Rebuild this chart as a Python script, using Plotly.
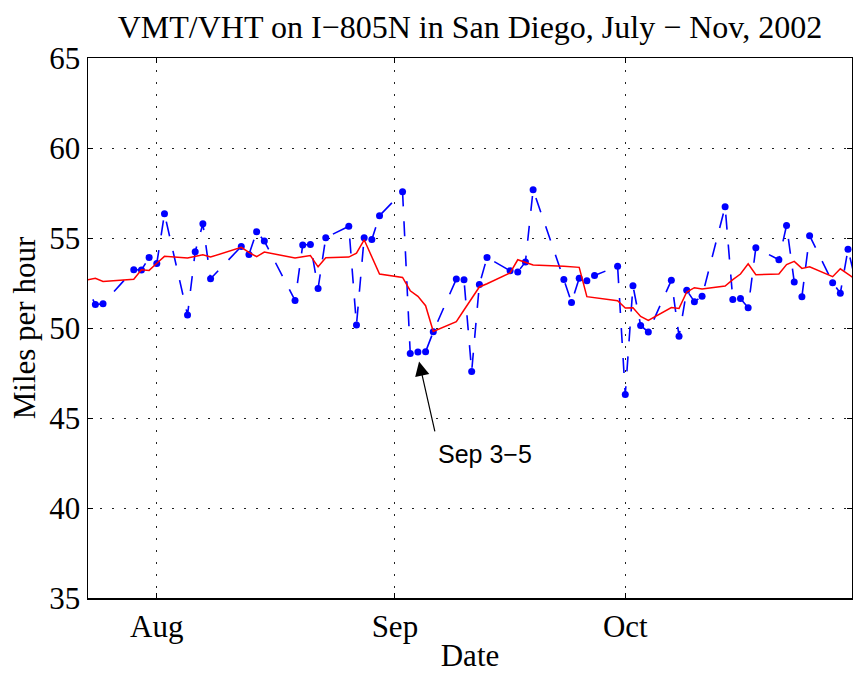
import plotly.graph_objects as go

# ---- data ----
dates = [
    "2002-07-22", "2002-07-24", "2002-07-25", "2002-07-29", "2002-07-30", "2002-07-31",
    "2002-08-01", "2002-08-02", "2002-08-05", "2002-08-06", "2002-08-07", "2002-08-08",
    "2002-08-12", "2002-08-13", "2002-08-14", "2002-08-15", "2002-08-19", "2002-08-20",
    "2002-08-21", "2002-08-22", "2002-08-23", "2002-08-26", "2002-08-27", "2002-08-28",
    "2002-08-29", "2002-08-30", "2002-09-02", "2002-09-03", "2002-09-04", "2002-09-05",
    "2002-09-06", "2002-09-09", "2002-09-10", "2002-09-11", "2002-09-12", "2002-09-13",
    "2002-09-16", "2002-09-17", "2002-09-18", "2002-09-19", "2002-09-23", "2002-09-24",
    "2002-09-25", "2002-09-26", "2002-09-27", "2002-09-30", "2002-10-01", "2002-10-02",
    "2002-10-03", "2002-10-04", "2002-10-07", "2002-10-08", "2002-10-09", "2002-10-10",
    "2002-10-11", "2002-10-14", "2002-10-15", "2002-10-16", "2002-10-17", "2002-10-18",
    "2002-10-21", "2002-10-22", "2002-10-23", "2002-10-24", "2002-10-25", "2002-10-28",
    "2002-10-29", "2002-10-30", "2002-10-31",
]

daily_mph = [
    53.10, 51.30, 51.35, 53.24, 53.22, 53.92,
    53.59, 56.35, 50.72, 54.24, 55.79, 52.74,
    54.53, 54.09, 55.35, 54.83, 51.53, 54.61,
    54.64, 52.20, 55.02, 55.65, 50.17, 55.02,
    54.92, 56.24, 57.57, 48.59, 48.67, 48.68,
    49.79, 52.72, 52.68, 47.59, 52.41, 53.92,
    53.18, 53.11, 53.67, 57.68, 52.70, 51.41,
    52.76, 52.63, 52.92, 53.43, 46.30, 52.35,
    50.14, 49.78, 52.65, 49.54, 52.10, 51.46,
    51.76, 56.74, 51.59, 51.64, 51.13, 54.46,
    53.79, 55.70, 52.56, 51.74, 55.13, 52.52,
    51.93, 54.37, 52.60,
]

smoothed_mph = [
    52.60, 52.76, 52.59, 52.71, 53.24, 53.20,
    53.60, 53.98, 53.89, 53.98, 54.07, 53.94,
    54.48, 54.20, 53.96, 54.22, 53.89, 53.96,
    54.03, 53.40, 53.90, 53.94, 54.16, 54.90,
    53.93, 53.00, 52.81, 52.07, 51.76, 51.24,
    49.81, 50.35, 51.00, 51.65, 52.28, 52.46,
    53.06, 53.79, 53.64, 53.50, 53.43, 53.40,
    53.37, 51.74, 51.68, 51.52, 51.11, 51.12,
    50.64, 50.42, 51.14, 51.09, 52.00, 52.24,
    52.17, 52.33, 52.69, 53.00, 53.57, 52.96,
    53.00, 53.52, 53.70, 53.31, 53.40, 52.85,
    53.29, 52.98, 52.70,
]

tick_dates = ["2002-08-01", "2002-09-01", "2002-10-01"]
tick_labels = ["Aug", "Sep", "Oct"]
y_ticks = [35, 40, 45, 50, 55, 60, 65]

x_range = ["2002-07-23 01:00", "2002-10-30 12:30"]
y_range = [35, 65]

SERIF = "Liberation Serif, Times New Roman, serif"
SANS = "Liberation Sans, Arial, Helvetica, sans-serif"

fig = go.Figure()

fig.add_trace(go.Scatter(
    x=dates, y=daily_mph, mode="lines+markers",
    line=dict(color="#0000ff", width=1.6, dash="15px,15px"),
    marker=dict(color="#0000ff", size=7, line=dict(width=0)),
    showlegend=False, hoverinfo="skip",
))
fig.add_trace(go.Scatter(
    x=dates, y=smoothed_mph, mode="lines",
    line=dict(color="#ff0000", width=1.5),
    showlegend=False, hoverinfo="skip",
))

# arrow pointing at Sep 3-5
fig.add_annotation(
    x="2002-09-04 03:30", y=48.14, ax="2002-09-06 06:00", ay=44.17,
    xref="x", yref="y", axref="x", ayref="y",
    text="", showarrow=True, arrowhead=2, arrowsize=2.4, arrowwidth=1.2,
    arrowcolor="black", standoff=0, startstandoff=0,
)
fig.add_annotation(
    x="2002-09-12 18:00", y=43.02, xref="x", yref="y",
    text="Sep 3−5", showarrow=False,
    font=dict(family=SANS, size=25, color="black"),
    xanchor="center", yanchor="middle",
)

axis_common = dict(
    showline=True, linecolor="black", linewidth=1.5, mirror="ticks",
    ticks="inside", ticklen=5, tickwidth=1, tickcolor="black",
    showgrid=True, gridcolor="#222222", gridwidth=1, griddash="2px,10px",
    zeroline=False, automargin=False,
    tickfont=dict(family=SERIF, size=31, color="black"),
)

fig.update_xaxes(
    type="date", range=x_range,
    tickmode="array", tickvals=tick_dates, ticktext=tick_labels,
    title=dict(text="Date", font=dict(family=SERIF, size=31, color="black"), standoff=2),
    **axis_common,
)
fig.update_yaxes(
    range=y_range, tickmode="array", tickvals=y_ticks,
    ticktext=[str(v) for v in y_ticks],
    title=dict(text="Miles per hour", font=dict(family=SERIF, size=31, color="black"), standoff=4),
    **axis_common,
)

fig.update_layout(
    width=853, height=673,
    margin=dict(l=88, r=1, t=58, b=75, autoexpand=False),
    paper_bgcolor="white", plot_bgcolor="white",
    title=dict(
        text="VMT/VHT on I−805N in San Diego, July − Nov, 2002",
        font=dict(family=SERIF, size=32, color="black"),
        x=0.5, xref="paper", xanchor="center",
        y=1 - 27 / 673, yref="container", yanchor="middle",
        automargin=False,
    ),
)

fig.write_html(
    "out.html",
    config={"displayModeBar": False, "staticPlot": True},
    post_script="document.body.style.margin='0';document.body.style.overflow='hidden';"
                "document.documentElement.style.overflow='hidden';",
)
